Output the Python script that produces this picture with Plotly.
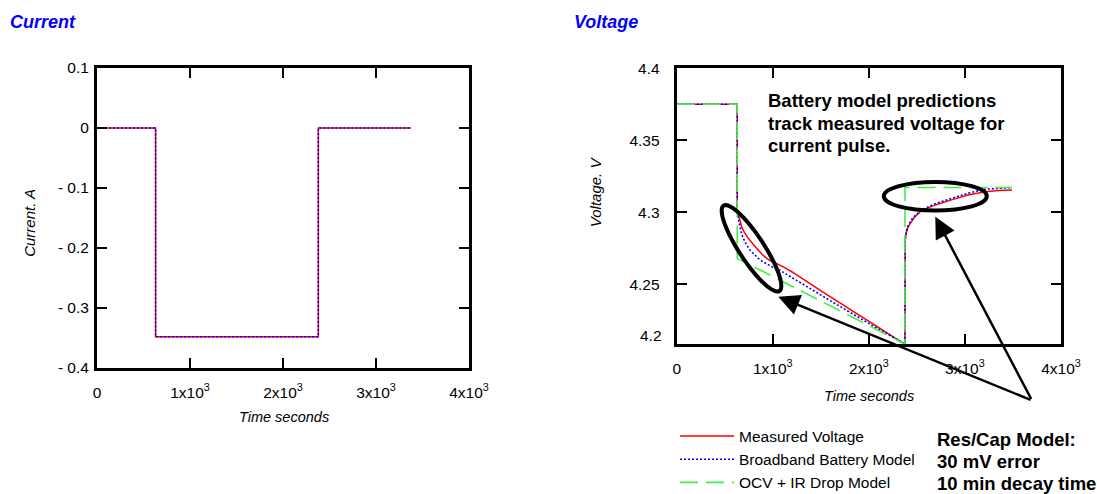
import numpy as np
import plotly.graph_objects as go

W, H = 1097, 494
FONT = "Arial, Liberation Sans, sans-serif"

# ---------------- data ----------------
cur_t = [0, 630, 630, 2380, 2380, 3376]
cur_i = [0, 0, -0.348, -0.348, 0, 0]

meas_t = [0, 630, 630, 635, 650, 676, 700, 745, 800, 849, 900, 953, 1000, 1057, 1120, 1197, 1543, 2370,
          2376, 2378, 2390, 2410, 2445, 2480, 2550, 2690, 2860, 3030, 3210, 3350, 3490]
meas_v = [4.375, 4.375, 4.302, 4.3016, 4.2965, 4.290, 4.2865, 4.2819, 4.2775, 4.2738, 4.270, 4.2672, 4.2658,
          4.2638, 4.2617, 4.2587, 4.2437, 4.2085,
          4.2085, 4.280, 4.286, 4.290, 4.294, 4.297, 4.3012, 4.3051, 4.3086, 4.312, 4.3143, 4.3152, 4.3155]

bb_t = [0, 630, 630, 635, 645, 659, 675, 693, 725, 763, 800, 849, 900, 953, 1010, 1075, 1300, 1600, 2000, 2370,
        2376, 2378, 2390, 2410, 2445, 2480, 2550, 2690, 2860, 3030, 3210, 3350, 3490]
bb_v = [4.375, 4.375, 4.301, 4.3005, 4.294, 4.289, 4.285, 4.282, 4.2775, 4.2738, 4.271, 4.268, 4.2655, 4.2634,
        4.2615, 4.2597, 4.2505, 4.2385, 4.2228, 4.2085,
        4.2085, 4.281, 4.287, 4.291, 4.295, 4.2975, 4.3016, 4.306, 4.3098, 4.3132, 4.316, 4.3168, 4.3172]

ocv_t = [0, 630, 630, 2370, 2376, 2376, 3490]
ocv_v = [4.375, 4.375, 4.268, 4.2085, 4.2085, 4.3172, 4.3172]

x_tickvals = [0, 1000, 2000, 3000, 4000]
x_ticktext = ["0", "1x10<sup>3</sup>", "2x10<sup>3</sup>", "3x10<sup>3</sup>", "4x10<sup>3</sup>"]
cur_tickvals = [0.1, 0, -0.1, -0.2, -0.3, -0.4]
cur_ticktext = ["0.1", "0", "- 0.1", "- 0.2", "- 0.3", "- 0.4"]
volt_tickvals = [4.25, 4.3, 4.35, 4.4]
volt_ticktext = ["4.25", "4.3", "4.35", "4.4"]

# ---------------- helpers ----------------
def px(x):
    return x / W

def py(y):
    return 1 - y / H

fig = go.Figure()

# left: current
fig.add_trace(go.Scatter(x=cur_t, y=cur_i, mode="lines", line=dict(color="red", width=1.5),
                         xaxis="x", yaxis="y", showlegend=False, hoverinfo="skip"))
fig.add_trace(go.Scatter(x=cur_t, y=cur_i, mode="lines", line=dict(color="blue", width=1.5, dash="2px,2px"),
                         xaxis="x", yaxis="y", showlegend=False, hoverinfo="skip"))

# right: voltage
fig.add_trace(go.Scatter(x=meas_t, y=meas_v, mode="lines", name="Measured Voltage",
                         line=dict(color="red", width=1.5), xaxis="x2", yaxis="y2",
                         legendgroup="a"))
fig.add_trace(go.Scatter(x=bb_t, y=bb_v, mode="lines", name="Broadband Battery Model",
                         line=dict(color="blue", width=1.6, dash="2px,2px"), xaxis="x2", yaxis="y2",
                         legendgroup="b"))
fig.add_trace(go.Scatter(x=ocv_t, y=ocv_v, mode="lines", name="OCV + IR Drop Model",
                         line=dict(color="#44ee44", width=1.6, dash="18px,8px"), xaxis="x2", yaxis="y2",
                         legendgroup="c"))

axis_common = dict(showline=True, linewidth=3, linecolor="black", mirror="ticks",
                   ticks="inside", ticklen=10, tickwidth=2, tickcolor="black",
                   showgrid=False, zeroline=False, automargin=False,
                   tickfont=dict(family=FONT, size=15.5, color="black"))

fig.update_layout(
    template="none",
    width=W, height=H,
    margin=dict(l=0, r=0, t=0, b=0, pad=0, autoexpand=False),
    paper_bgcolor="white", plot_bgcolor="white",
    font=dict(family=FONT, color="black"),
    xaxis=dict(domain=[px(97), px(469)], range=[0, 4000], tickvals=x_tickvals, ticktext=x_ticktext,
               anchor="y", ticklabelstandoff=8, **axis_common),
    yaxis=dict(domain=[py(368), py(68)], range=[-0.4, 0.1], tickvals=cur_tickvals, ticktext=cur_ticktext,
               anchor="x", ticklabelstandoff=2, **axis_common),
    xaxis2=dict(domain=[px(676.7), px(1061)], range=[0, 4000], tickvals=x_tickvals, ticktext=x_ticktext,
                anchor="y2", ticklabelstandoff=8, **axis_common),
    yaxis2=dict(domain=[py(344), py(68.3)], range=[4.2085, 4.4], tickvals=volt_tickvals,
                ticktext=volt_ticktext, anchor="x2", ticklabelstandoff=11, **axis_common),
    legend=dict(x=px(675), y=py(419.5), xanchor="left", yanchor="top", itemwidth=54,
                tracegroupgap=0, font=dict(family=FONT, size=15.5, color="black"),
                bgcolor="rgba(0,0,0,0)"),
)

ann = []
def text(x, y, s, size, **kw):
    d = dict(x=px(x), y=py(y), xref="paper", yref="paper", text=s, showarrow=False,
             font=dict(family=FONT, size=size, color=kw.pop("color", "black")))
    d.update(kw)
    ann.append(d)

text(8, 22, "<b><i>Current</i></b>", 18, color="#0000ff", xanchor="left", yanchor="middle")
text(572, 22, "<b><i>Voltage</i></b>", 18, color="#0000ff", xanchor="left", yanchor="middle")
text(29.3, 222.5, "<i>Current. A</i>", 15, textangle=-90, xanchor="center", yanchor="middle")
text(595.7, 191.5, "<i>Voltage. V</i>", 15, textangle=-90, xanchor="center", yanchor="middle")
text(283.8, 417.3, "<i>Time seconds</i>", 14.5, xanchor="center", yanchor="middle")
text(869.3, 396, "<i>Time seconds</i>", 14.5, xanchor="center", yanchor="middle")
text(664, 335, "4.2", 15.5, xanchor="right", yanchor="middle")
for i, line in enumerate(["Battery model predictions", "track measured voltage for", "current pulse."]):
    text(766, 100.7 + i * 22.5, "<b>" + line + "</b>", 18.5, xanchor="left", yanchor="middle")
for i, line in enumerate(["Res/Cap Model:", "30 mV error", "10 min decay time"]):
    text(935, 439 + i * 22, "<b>" + line + "</b>", 18.5, xanchor="left", yanchor="middle")

# arrows (tail at common point)
tail = (1032, 400.5)
for head in [(778.3, 296.7), (935.3, 216.7)]:
    ann.append(dict(x=px(head[0]), y=py(head[1]), xref="paper", yref="paper", text="",
                    showarrow=True, axref="pixel", ayref="pixel",
                    ax=tail[0] - head[0], ay=tail[1] - head[1],
                    arrowhead=2, arrowsize=1.7, arrowwidth=2.5, arrowcolor="black", standoff=0))
fig.update_layout(annotations=ann)

# ellipses
shapes = []
cx, cy, a, b, ang = 751.5, 248.3, 51, 12.5, np.deg2rad(56.8)
th = np.linspace(0, 2 * np.pi, 73)
ex = cx + a * np.cos(th) * np.cos(ang) - b * np.sin(th) * np.sin(ang)
ey = cy + a * np.cos(th) * np.sin(ang) + b * np.sin(th) * np.cos(ang)
path = "M " + " L ".join(f"{px(x):.5f},{py(y):.5f}" for x, y in zip(ex, ey)) + " Z"
shapes.append(dict(type="path", path=path, xref="paper", yref="paper",
                   line=dict(color="black", width=4)))
shapes.append(dict(type="circle", xref="paper", yref="paper",
                   x0=px(935.3 - 51.5), x1=px(935.3 + 51.5), y0=py(196.3 - 14.3), y1=py(196.3 + 14.3),
                   line=dict(color="black", width=4)))
fig.update_layout(shapes=shapes)

fig.write_html("out.html", post_script="document.body.style.margin='0px';",
               config={"displayModeBar": False})
